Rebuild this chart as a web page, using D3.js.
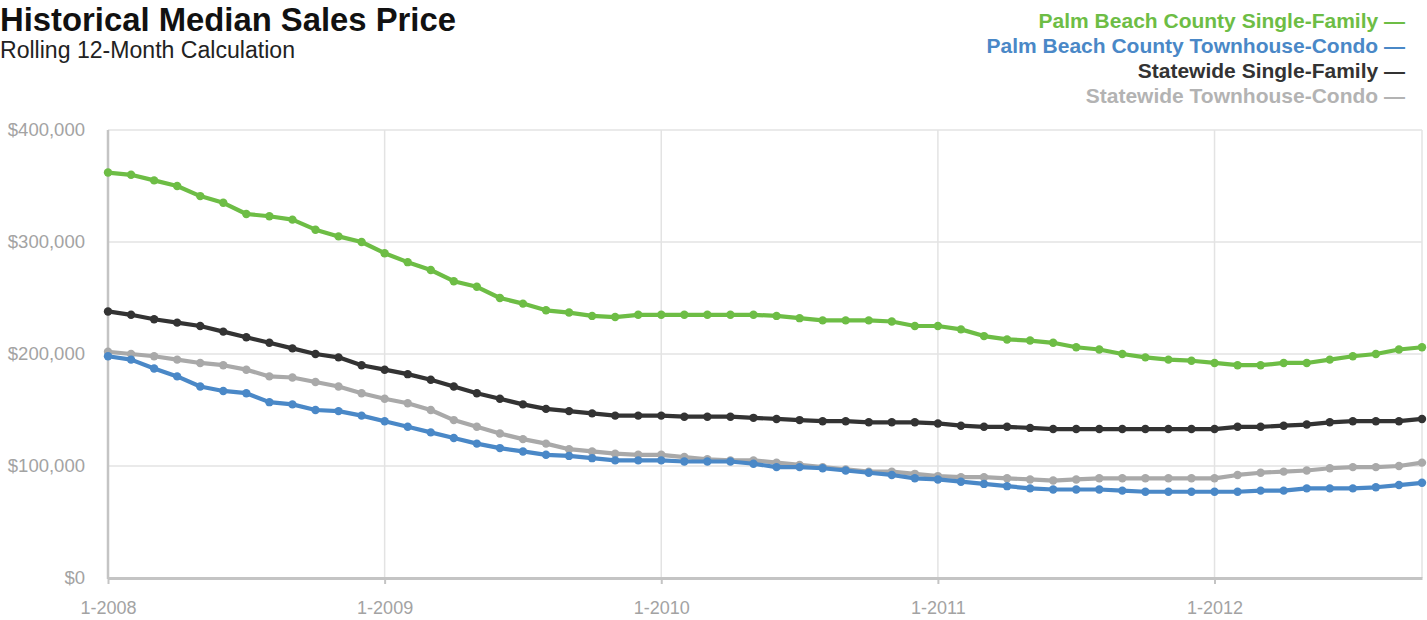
<!DOCTYPE html>
<html><head><meta charset="utf-8">
<script src="https://cdn.jsdelivr.net/npm/d3@7"></script>
<style>
html,body{margin:0;padding:0;background:#fff;}
svg{display:block;}
</style></head>
<body>
<svg id="chart" width="1427" height="620"></svg>
<script>
// ---- data ----
const months = [];
for (let yr = 2008; yr <= 2012; yr++) for (let m = 1; m <= 12; m++) if (months.length < 58) months.push(m + "-" + yr);
const tickLabels = ["1-2008", "1-2009", "1-2010", "1-2011", "1-2012"];
const yTicks = [0, 100000, 200000, 300000, 400000];
const seriesNames = ["Palm Beach County Single-Family", "Palm Beach County Townhouse-Condo", "Statewide Single-Family", "Statewide Townhouse-Condo"];
const pbcSingleFamily = [362,360,355,350,341,335,325,323,320,311,305,300,290,282,275,265,260,250,245,239,237,234,233,235,235,235,235,235,235,234,232,230,230,230,229,225,225,222,216,213,212,210,206,204,200,197,195,194,192,190,190,192,192,195,198,200,204,206];
const pbcTownhouse = [198,195,187,180,171,167,165,157,155,150,149,145,140,135,130,125,120,116,113,110,109,107,105,105,105,104,104,104,102,99,99,98,96,94,92,89,88,86,84,82,80,79,79,79,78,77,77,77,77,77,78,78,80,80,80,81,83,85];
const stateSingleFamily = [238,235,231,228,225,220,215,210,205,200,197,190,186,182,177,171,165,160,155,151,149,147,145,145,145,144,144,144,143,142,141,140,140,139,139,139,138,136,135,135,134,133,133,133,133,133,133,133,133,135,135,136,137,139,140,140,140,142];
const stateTownhouse = [202,200,198,195,192,190,186,180,179,175,171,165,160,156,150,141,135,129,124,120,115,113,111,110,110,108,106,105,105,103,101,99,97,95,95,93,91,90,90,89,88,87,88,89,89,89,89,89,89,92,94,95,96,98,99,99,100,103];
const seriesValues = [pbcSingleFamily, pbcTownhouse, stateSingleFamily, stateTownhouse];
const colors = ["#6dbd45", "#4a88c7", "#333333", "#a9a9a9"];
const legendColors = ["#6dbd45", "#4a88c7", "#333333", "#b3b3b3"];

// ---- chart ----
const svg = d3.select("#chart");
const pLeft = 108, pRight = 1422, pTop = 130, pBottom = 578;
const x = d3.scalePoint().domain(months).range([pLeft, pRight]);
const y = d3.scaleLinear().domain([0, 400000]).range([pBottom, pTop]);

// gridlines
svg.append("g").selectAll("line").data(yTicks.slice(1)).join("line")
  .attr("x1", pLeft).attr("x2", pRight).attr("y1", d => y(d)).attr("y2", d => y(d))
  .attr("stroke", "#e3e3e3").attr("stroke-width", 1.5);
svg.append("g").selectAll("line").data(tickLabels.slice(1)).join("line")
  .attr("x1", d => x(d)).attr("x2", d => x(d)).attr("y1", pTop).attr("y2", pBottom)
  .attr("stroke", "#e3e3e3").attr("stroke-width", 1.5);
svg.append("line").attr("x1", pRight).attr("x2", pRight).attr("y1", pTop).attr("y2", pBottom)
  .attr("stroke", "#e3e3e3").attr("stroke-width", 1.5);

// y axis labels
const yAxis = d3.axisLeft(y).tickValues(yTicks).tickSize(0).tickPadding(23)
  .tickFormat(d => "$" + d3.format(",")(d));
const gy = svg.append("g").attr("transform", `translate(${pLeft},0)`).call(yAxis);
gy.select(".domain").remove();
gy.selectAll("text").attr("fill", "#a3a3a3").style("font-family", "'Liberation Sans', Arial, sans-serif").style("font-size", "18.5px");
svg.append("line").attr("x1", pLeft).attr("x2", pLeft).attr("y1", pTop).attr("y2", pBottom + 1)
  .attr("stroke", "#c4c4c4").attr("stroke-width", 2.5);

// x axis
const xAxis = d3.axisBottom(x).tickValues(tickLabels).tickSize(6).tickPadding(17).tickSizeOuter(0);
const gx = svg.append("g").attr("transform", `translate(0,${pBottom})`).call(xAxis);
gx.select(".domain").attr("stroke", "#c4c4c4").attr("stroke-width", 3);
gx.selectAll(".tick line").attr("stroke", "#c4c4c4").attr("stroke-width", 2);
gx.selectAll("text").attr("fill", "#a3a3a3").style("font-family", "'Liberation Sans', Arial, sans-serif").style("font-size", "18px");

// lines
const line = d3.line().x((d, i) => x(months[i])).y(d => y(d * 1000)).curve(d3.curveLinear);
const order = [3, 1, 2, 0];
order.forEach(si => {
  const g = svg.append("g");
  g.append("path").datum(seriesValues[si]).attr("d", line)
    .attr("fill", "none").attr("stroke", colors[si]).attr("stroke-width", 4.2).attr("stroke-linejoin", "round");
  g.selectAll("circle").data(seriesValues[si]).join("circle")
    .attr("cx", (d, i) => x(months[i])).attr("cy", d => y(d * 1000)).attr("r", 4.2)
    .attr("fill", colors[si]);
});

// title
svg.append("text").attr("x", 0).attr("y", 31).text("Historical Median Sales Price")
  .attr("textLength", 456).attr("lengthAdjust", "spacingAndGlyphs")
  .style("font-family", "'Liberation Sans', Arial, sans-serif").style("font-weight", "bold")
  .style("font-size", "34px").attr("fill", "#111");
svg.append("text").attr("x", 0).attr("y", 58).text("Rolling 12-Month Calculation")
  .attr("textLength", 295).attr("lengthAdjust", "spacingAndGlyphs")
  .style("font-family", "'Liberation Sans', Arial, sans-serif")
  .style("font-size", "23px").attr("fill", "#222");

// legend
svg.append("g").selectAll("text").data(seriesNames).join("text")
  .attr("x", 1405).attr("y", (d, i) => 28 + i * 25).attr("text-anchor", "end")
  .text(d => d + " \u2014")
  .attr("fill", (d, i) => legendColors[i])
  .style("font-family", "'Liberation Sans', Arial, sans-serif").style("font-weight", "bold")
  .style("font-size", "21px");
</script>
</body></html>
